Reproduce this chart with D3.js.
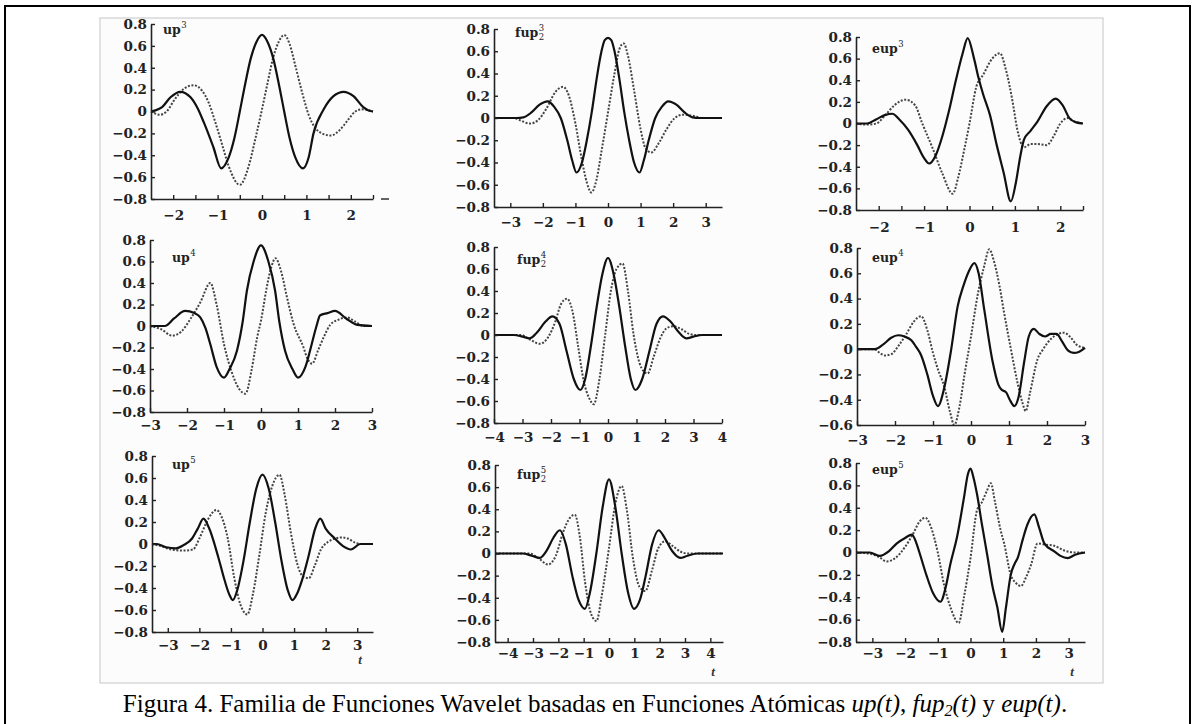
<!DOCTYPE html>
<html><head><meta charset="utf-8">
<script src="https://cdn.jsdelivr.net/npm/d3@7"></script>
<style>
body{margin:0;background:#fff;}
svg{display:block;}
.tk text{font-family:"DejaVu Serif",serif;font-weight:bold;font-size:13.5px;fill:#222;}
</style></head><body>
<svg id="c" width="1193" height="724"></svg>
<script>
// ---- tick arrays ----
const yTicksA = [-0.8,-0.6,-0.4,-0.2,0,0.2,0.4,0.6,0.8];
const yTicksB = [-0.6,-0.4,-0.2,0,0.2,0.4,0.6,0.8];
const xTicksHalf = [-2,-1.5,-1,-0.5,0,0.5,1,1.5,2,2.5];
const xTicks3h = [-3,-2,-1,0,1,2,3];
const xTicks3 = [-3,-2,-1,0,1,2,3];
const xTicks4 = [-4,-3,-2,-1,0,1,2,3,4];
const panelNames = ["up","fup","eup","up","fup","eup","up","fup","eup"];
const panelOrders = ["3","3","3","4","4","4","5","5","5"];

// ---- series (t, value) ----
const up3Solid = [[-2.5,0],[-2.4,0.01],[-2.25,0.04],[-2.06,0.13],[-1.84,0.18],[-1.61,0.13],[-1.45,0.03],[-1.31,-0.1],[-1.1,-0.32],[-0.92,-0.52],[-0.75,-0.42],[-0.62,-0.24],[-0.5,0.0],[-0.38,0.25],[-0.25,0.49],[-0.12,0.64],[0,0.70],[0.12,0.64],[0.25,0.49],[0.38,0.25],[0.5,0.0],[0.62,-0.24],[0.75,-0.42],[0.92,-0.52],[1.05,-0.42],[1.16,-0.2],[1.39,0.02],[1.61,0.14],[1.84,0.18],[2.06,0.14],[2.28,0.04],[2.4,0.01],[2.5,0]];
const up3Dotted = [[-2.5,0],[-2.4,-0.02],[-2.3,-0.03],[-2.15,0.0],[-1.95,0.12],[-1.75,0.21],[-1.54,0.24],[-1.35,0.19],[-1.2,0.08],[-1.05,-0.1],[-0.9,-0.3],[-0.75,-0.5],[-0.5,-0.67],[-0.3,-0.5],[-0.15,-0.25],[0,0.02],[0.12,0.25],[0.25,0.49],[0.38,0.64],[0.5,0.70],[0.62,0.62],[0.75,0.42],[0.9,0.18],[1.05,-0.03],[1.2,-0.15],[1.35,-0.2],[1.55,-0.22],[1.75,-0.17],[1.95,-0.07],[2.1,0.0],[2.25,0.02],[2.5,0.0]];

const fup3Solid = [[-3.5,0],[-2.8,0],[-2.6,0.005],[-2.35,0.05],[-2.1,0.12],[-1.85,0.15],[-1.65,0.1],[-1.45,0.0],[-1.25,-0.2],[-1.1,-0.38],[-0.97,-0.49],[-0.8,-0.4],[-0.65,-0.2],[-0.5,0.05],[-0.35,0.35],[-0.2,0.6],[-0.1,0.7],[0,0.72],[0.1,0.7],[0.2,0.6],[0.35,0.35],[0.5,0.05],[0.65,-0.2],[0.8,-0.4],[0.97,-0.49],[1.1,-0.38],[1.25,-0.2],[1.45,0.0],[1.65,0.1],[1.85,0.15],[2.1,0.12],[2.35,0.05],[2.6,0.005],[2.8,0],[3.5,0]];
const fup3Dotted = [[-3.5,0],[-2.9,0],[-2.7,-0.02],[-2.4,-0.05],[-2.15,-0.02],[-1.9,0.08],[-1.6,0.24],[-1.38,0.28],[-1.2,0.2],[-1.0,-0.05],[-0.8,-0.38],[-0.65,-0.58],[-0.51,-0.67],[-0.35,-0.55],[-0.2,-0.3],[0,0.05],[0.2,0.4],[0.35,0.62],[0.48,0.67],[0.62,0.55],[0.8,0.25],[1.0,-0.1],[1.15,-0.27],[1.33,-0.31],[1.55,-0.23],[1.8,-0.1],[2.05,0.0],[2.3,0.03],[2.6,0.02],[2.9,0],[3.5,0]];

const eup3Solid = [[-2.5,0],[-2.25,0.0],[-2.05,0.04],[-1.85,0.08],[-1.7,0.09],[-1.55,0.04],[-1.35,-0.06],[-1.15,-0.2],[-1.0,-0.32],[-0.89,-0.37],[-0.75,-0.3],[-0.6,-0.12],[-0.45,0.12],[-0.3,0.4],[-0.15,0.65],[-0.04,0.79],[0.1,0.6],[0.2,0.42],[0.3,0.27],[0.45,0.08],[0.6,-0.2],[0.75,-0.45],[0.91,-0.72],[1.02,-0.55],[1.12,-0.3],[1.2,-0.15],[1.34,-0.07],[1.5,0.02],[1.7,0.16],[1.9,0.23],[2.05,0.17],[2.2,0.05],[2.35,0.01],[2.5,0]];
const eup3Dotted = [[-2.5,0],[-2.25,-0.01],[-2.05,0.0],[-1.85,0.08],[-1.65,0.17],[-1.41,0.22],[-1.2,0.17],[-1.04,0.0],[-0.82,-0.22],[-0.6,-0.46],[-0.37,-0.65],[-0.25,-0.5],[-0.12,-0.25],[0,0.0],[0.15,0.34],[0.3,0.45],[0.5,0.6],[0.67,0.65],[0.8,0.5],[0.95,0.2],[1.05,-0.05],[1.2,-0.22],[1.35,-0.19],[1.5,-0.19],[1.7,-0.2],[1.85,-0.12],[2.0,0.0],[2.16,0.05],[2.3,0.02],[2.5,0]];

const up4Solid = [[-3,0],[-2.6,0.0],[-2.35,0.07],[-2.05,0.14],[-1.8,0.12],[-1.64,0.08],[-1.5,-0.02],[-1.37,-0.17],[-1.2,-0.38],[-1.0,-0.48],[-0.85,-0.4],[-0.65,-0.23],[-0.5,0.03],[-0.38,0.33],[-0.2,0.6],[0,0.75],[0.2,0.6],[0.38,0.33],[0.5,0.03],[0.65,-0.23],[0.85,-0.4],[1.0,-0.48],[1.2,-0.38],[1.37,-0.17],[1.5,0.0],[1.6,0.1],[1.8,0.12],[2.0,0.14],[2.3,0.07],[2.6,0.01],[3,0]];
const up4Dotted = [[-3,0],[-2.7,-0.03],[-2.4,-0.09],[-2.15,-0.05],[-1.9,0.07],[-1.64,0.22],[-1.37,0.40],[-1.2,0.2],[-1.0,-0.17],[-0.8,-0.42],[-0.6,-0.58],[-0.42,-0.63],[-0.25,-0.4],[-0.1,-0.1],[0,0.05],[0.15,0.35],[0.28,0.55],[0.39,0.63],[0.55,0.5],[0.7,0.27],[0.88,0.02],[1.15,-0.2],[1.25,-0.3],[1.38,-0.35],[1.55,-0.22],[1.7,-0.1],[1.87,0.01],[2.1,0.06],[2.32,0.08],[2.55,0.04],[2.77,0.0],[3,0]];

const fup4Solid = [[-4,0],[-3.3,0],[-3.0,-0.015],[-2.74,-0.03],[-2.5,0.02],[-2.2,0.12],[-1.95,0.17],[-1.7,0.1],[-1.45,-0.15],[-1.2,-0.4],[-0.97,-0.5],[-0.8,-0.4],[-0.6,-0.1],[-0.4,0.25],[-0.2,0.55],[0,0.70],[0.2,0.55],[0.4,0.25],[0.6,-0.1],[0.8,-0.4],[0.96,-0.5],[1.2,-0.4],[1.45,-0.15],[1.7,0.1],[1.93,0.17],[2.2,0.12],[2.5,0.02],[2.75,-0.03],[3.0,-0.015],[3.3,0],[4,0]];
const fup4Dotted = [[-4,0],[-3.04,0],[-2.75,-0.04],[-2.39,-0.08],[-2.1,-0.02],[-1.85,0.12],[-1.65,0.28],[-1.44,0.33],[-1.25,0.22],[-1.05,-0.1],[-0.85,-0.42],[-0.65,-0.58],[-0.5,-0.63],[-0.3,-0.4],[-0.1,0.0],[0.1,0.4],[0.3,0.6],[0.51,0.65],[0.7,0.4],[0.9,0.0],[1.1,-0.25],[1.25,-0.33],[1.39,-0.35],[1.6,-0.2],[1.85,-0.02],[2.05,0.06],[2.28,0.08],[2.6,0.05],[2.85,0.01],[3.1,0],[4,0]];

const eup4Solid = [[-3,0],[-2.53,0],[-2.3,0.04],[-2.1,0.09],[-1.92,0.11],[-1.75,0.1],[-1.57,0.07],[-1.45,0.02],[-1.31,-0.05],[-1.15,-0.2],[-1.0,-0.37],[-0.87,-0.45],[-0.7,-0.3],[-0.52,0.0],[-0.35,0.34],[-0.2,0.5],[-0.05,0.62],[0.09,0.68],[0.2,0.6],[0.35,0.31],[0.57,-0.1],[0.72,-0.28],[0.8,-0.32],[0.92,-0.34],[1.02,-0.4],[1.14,-0.45],[1.25,-0.38],[1.4,-0.1],[1.52,0.1],[1.65,0.16],[1.8,0.12],[1.95,0.1],[2.1,0.12],[2.25,0.12],[2.4,0.06],[2.55,-0.01],[2.7,-0.03],[2.85,-0.02],[3,0.01]];
const eup4Dotted = [[-3,0],[-2.55,0],[-2.4,-0.03],[-2.27,-0.05],[-2.1,-0.04],[-1.9,0.03],[-1.7,0.12],[-1.5,0.22],[-1.31,0.26],[-1.15,0.15],[-1.0,-0.03],[-0.87,-0.16],[-0.7,-0.3],[-0.55,-0.5],[-0.44,-0.6],[-0.3,-0.45],[-0.17,-0.2],[0,0.1],[0.17,0.42],[0.35,0.66],[0.48,0.79],[0.6,0.7],[0.75,0.5],[0.87,0.29],[1.05,0.0],[1.22,-0.26],[1.35,-0.42],[1.44,-0.49],[1.55,-0.35],[1.75,-0.08],[1.9,0.0],[2.1,0.08],[2.3,0.12],[2.45,0.13],[2.6,0.1],[2.8,0.03],[3,0.01]];

const up5Solid = [[-3.5,0],[-3.35,0.0],[-3.05,-0.03],[-2.74,-0.04],[-2.5,-0.01],[-2.23,0.05],[-2.05,0.14],[-1.87,0.23],[-1.7,0.15],[-1.4,-0.12],[-1.2,-0.33],[-1.05,-0.46],[-0.94,-0.51],[-0.8,-0.42],[-0.6,-0.15],[-0.4,0.2],[-0.2,0.5],[0,0.63],[0.2,0.5],[0.4,0.2],[0.6,-0.15],[0.8,-0.42],[0.95,-0.51],[1.08,-0.46],[1.25,-0.33],[1.45,-0.12],[1.68,0.15],[1.83,0.23],[2.0,0.14],[2.29,0.05],[2.55,-0.02],[2.8,-0.05],[3.1,0],[3.5,0]];
const up5Dotted = [[-3.5,0],[-3.2,-0.02],[-2.9,-0.05],[-2.53,-0.06],[-2.2,-0.05],[-2.0,0.05],[-1.8,0.18],[-1.6,0.28],[-1.46,0.31],[-1.3,0.25],[-1.1,0.05],[-0.9,-0.3],[-0.7,-0.55],[-0.48,-0.64],[-0.3,-0.45],[-0.1,-0.1],[0.1,0.28],[0.3,0.52],[0.54,0.63],[0.7,0.45],[0.9,0.1],[1.1,-0.18],[1.3,-0.3],[1.47,-0.31],[1.65,-0.2],[1.85,-0.05],[2.08,0.02],[2.3,0.05],[2.49,0.06],[2.7,0.05],[2.95,0.01],[3.1,0],[3.5,0]];

const fup5Solid = [[-4.5,0],[-3.4,0],[-3.05,-0.02],[-2.73,-0.04],[-2.45,0.03],[-2.2,0.14],[-1.94,0.21],[-1.7,0.08],[-1.45,-0.2],[-1.2,-0.42],[-0.95,-0.5],[-0.75,-0.35],[-0.5,0.0],[-0.25,0.42],[0,0.67],[0.25,0.42],[0.5,0.0],[0.75,-0.35],[0.99,-0.5],[1.22,-0.42],[1.45,-0.2],[1.7,0.08],[1.96,0.21],[2.2,0.14],[2.5,0.02],[2.81,-0.04],[3.1,-0.02],[3.5,0],[4.5,0]];
const fup5Dotted = [[-4.5,0],[-3.13,0],[-2.8,-0.04],[-2.4,-0.1],[-2.1,-0.02],[-1.8,0.2],[-1.55,0.32],[-1.35,0.35],[-1.15,0.15],[-0.95,-0.25],[-0.7,-0.55],[-0.49,-0.61],[-0.3,-0.4],[0,0.05],[0.25,0.45],[0.5,0.61],[0.7,0.4],[0.95,-0.05],[1.2,-0.3],[1.43,-0.34],[1.7,-0.15],[1.95,0.05],[2.22,0.11],[2.5,0.07],[2.8,0.02],[3.08,0],[4.5,0]];

const eup5Solid = [[-3.5,0],[-3.08,0],[-2.77,-0.03],[-2.5,0.01],[-2.26,0.08],[-2.0,0.13],[-1.79,0.16],[-1.65,0.08],[-1.54,-0.02],[-1.35,-0.2],[-1.15,-0.36],[-0.92,-0.44],[-0.75,-0.3],[-0.62,-0.11],[-0.41,0.14],[-0.2,0.49],[-0.08,0.7],[0,0.75],[0.1,0.66],[0.2,0.52],[0.35,0.25],[0.51,-0.02],[0.67,-0.3],[0.82,-0.49],[0.97,-0.71],[1.08,-0.5],[1.23,-0.2],[1.35,-0.1],[1.44,-0.05],[1.6,0.12],[1.74,0.25],[1.95,0.34],[2.1,0.22],[2.26,0.08],[2.56,0.01],[2.75,-0.03],[2.97,-0.05],[3.2,-0.02],[3.5,0]];
const eup5Dotted = [[-3.5,0],[-3.1,-0.01],[-2.8,-0.04],[-2.56,-0.08],[-2.3,-0.05],[-2.0,0.05],[-1.75,0.17],[-1.55,0.28],[-1.38,0.31],[-1.2,0.22],[-1.0,0.0],[-0.8,-0.3],[-0.6,-0.5],[-0.36,-0.63],[-0.2,-0.4],[0,-0.05],[0.2,0.38],[0.35,0.45],[0.5,0.55],[0.62,0.62],[0.75,0.45],[0.92,0.2],[1.03,0.08],[1.23,-0.2],[1.38,-0.27],[1.54,-0.3],[1.7,-0.22],[1.85,-0.11],[2.05,0.08],[2.3,0.07],[2.56,0.06],[2.85,0.02],[3.18,0],[3.5,0]];

// ---- layout (pixel boxes) ----
const layout = [
 {x0:151,x1:373,y0:24,y1:199,xd:[-2.5,2.5],yd:[-0.8,0.8],yt:yTicksA,xt:xTicksHalf,pad:11,lx:163,ly:34,s:up3Solid,d:up3Dotted},
 {x0:494,x1:722,y0:29,y1:207,xd:[-3.5,3.5],yd:[-0.8,0.8],yt:yTicksA,xt:xTicks3h,pad:10,lx:515,ly:37,s:fup3Solid,d:fup3Dotted},
 {x0:856,x1:1083,y0:37,y1:210,xd:[-2.5,2.5],yd:[-0.8,0.8],yt:yTicksA,xt:xTicksHalf,pad:12,lx:872,ly:53,s:eup3Solid,d:eup3Dotted},
 {x0:150,x1:372,y0:240,y1:412,xd:[-3,3],yd:[-0.8,0.8],yt:yTicksA,xt:xTicks3,pad:8,lx:172,ly:262,s:up4Solid,d:up4Dotted},
 {x0:494,x1:722,y0:247,y1:423,xd:[-4,4],yd:[-0.8,0.8],yt:yTicksA,xt:xTicks4,pad:9,lx:517,ly:264,s:fup4Solid,d:fup4Dotted},
 {x0:857,x1:1085,y0:248,y1:425,xd:[-3,3],yd:[-0.6,0.8],yt:yTicksB,xt:xTicks3,pad:10,lx:872,ly:262,s:eup4Solid,d:eup4Dotted},
 {x0:152,x1:373,y0:456,y1:632,xd:[-3.5,3.5],yd:[-0.8,0.8],yt:yTicksA,xt:xTicks3h,pad:8,lx:172,ly:469,s:up5Solid,d:up5Dotted},
 {x0:495,x1:723,y0:465,y1:642,xd:[-4.5,4.5],yd:[-0.8,0.8],yt:yTicksA,xt:xTicks4,pad:6,lx:517,ly:479,s:fup5Solid,d:fup5Dotted},
 {x0:856,x1:1085,y0:463,y1:642,xd:[-3.5,3.5],yd:[-0.8,0.8],yt:yTicksA,xt:xTicks3,pad:6,lx:872,ly:474,s:eup5Solid,d:eup5Dotted}
];

const svg = d3.select("#c");
svg.append("rect").attr("width",1193).attr("height",724).attr("fill","#fff");
// image area
svg.append("rect").attr("x",100).attr("y",18).attr("width",1003).attr("height",665)
  .attr("fill","#fcfcfc").attr("stroke","#cfcfcf").attr("stroke-width",1.2);
// outer frame
svg.append("path").attr("d","M5,730V6H1190V730").attr("fill","none").attr("stroke","#000").attr("stroke-width",2);

const fmtY = d => d===0 ? "0" : d3.format(".1f")(d);
const fmtX = d => Number.isInteger(d) ? d3.format("d")(d) : "";

layout.forEach((p,i) => {
  const x = d3.scaleLinear().domain(p.xd).range([p.x0,p.x1]);
  const y = d3.scaleLinear().domain(p.yd).range([p.y1,p.y0]);
  const g = svg.append("g");
  const line = d3.line().x(d=>x(d[0])).y(d=>y(d[1])).curve(d3.curveMonotoneX);
  g.append("path").datum(p.d).attr("d",line).attr("fill","none")
    .attr("stroke","#444").attr("stroke-width",2).attr("stroke-dasharray","2,1.6");
  g.append("path").datum(p.s).attr("d",line).attr("fill","none")
    .attr("stroke","#111").attr("stroke-width",2.2).attr("stroke-linejoin","round");

  const ya = g.append("g").attr("class","tk").attr("transform",`translate(${p.x0},0)`)
    .call(d3.axisLeft(y).tickValues(p.yt).tickSize(-4).tickSizeOuter(0).tickPadding(4).tickFormat(fmtY));
  const xa = g.append("g").attr("class","tk").attr("transform",`translate(0,${p.y1})`)
    .call(d3.axisBottom(x).tickValues(p.xt).tickSize(-4).tickSizeOuter(0).tickPadding(p.pad).tickFormat(fmtX));
  [ya,xa].forEach(a => {
    a.select(".domain").attr("stroke","#222").attr("stroke-width",1.6);
    a.selectAll(".tick line").attr("stroke","#222").attr("stroke-width",1.4);
  });

  // panel label
  const lab = g.append("text").attr("x",p.lx).attr("y",p.ly)
    .style("font-family","DejaVu Serif").style("font-weight","bold").style("font-size","12.5px").attr("fill","#222")
    .text(panelNames[i]);
  const w = lab.node().getComputedTextLength();
  g.append("text").attr("x",p.lx+w+0.5).attr("y",p.ly-6)
    .style("font-family","DejaVu Serif").style("font-size","8.5px").attr("fill","#222").text(panelOrders[i]);
  if (panelNames[i]==="fup") {
    g.append("text").attr("x",p.lx+w+0.5).attr("y",p.ly+3)
      .style("font-family","DejaVu Serif").style("font-size","8.5px").attr("fill","#222").text("2");
  }
});

// stray dash in first panel
svg.append("line").attr("x1",381).attr("x2",389).attr("y1",199).attr("y2",199).attr("stroke","#222").attr("stroke-width",1.4);

// t axis labels
[[360,664],[713,676],[1072,676]].forEach(([tx,ty]) => {
  svg.append("text").attr("x",tx).attr("y",ty).attr("text-anchor","middle")
    .style("font-family","Liberation Serif").style("font-style","italic").style("font-weight","bold")
    .style("font-size","13px").attr("fill","#333").text("t");
});

// caption
const cap = svg.append("text").attr("x",595).attr("y",712).attr("text-anchor","middle")
  .style("font-family","Liberation Serif").style("font-size","25px").attr("fill","#000");
cap.append("tspan").text("Figura 4. Familia de Funciones Wavelet basadas en Funciones Atómicas ");
cap.append("tspan").style("font-style","italic").text("up(t)");
cap.append("tspan").text(", ");
cap.append("tspan").style("font-style","italic").text("fup");
cap.append("tspan").style("font-style","italic").style("font-size","16px").attr("dy",4).text("2");
cap.append("tspan").style("font-style","italic").attr("dy",-4).text("(t)");
cap.append("tspan").text(" y ");
cap.append("tspan").style("font-style","italic").text("eup(t)");
cap.append("tspan").text(".");
</script>
</body></html>
